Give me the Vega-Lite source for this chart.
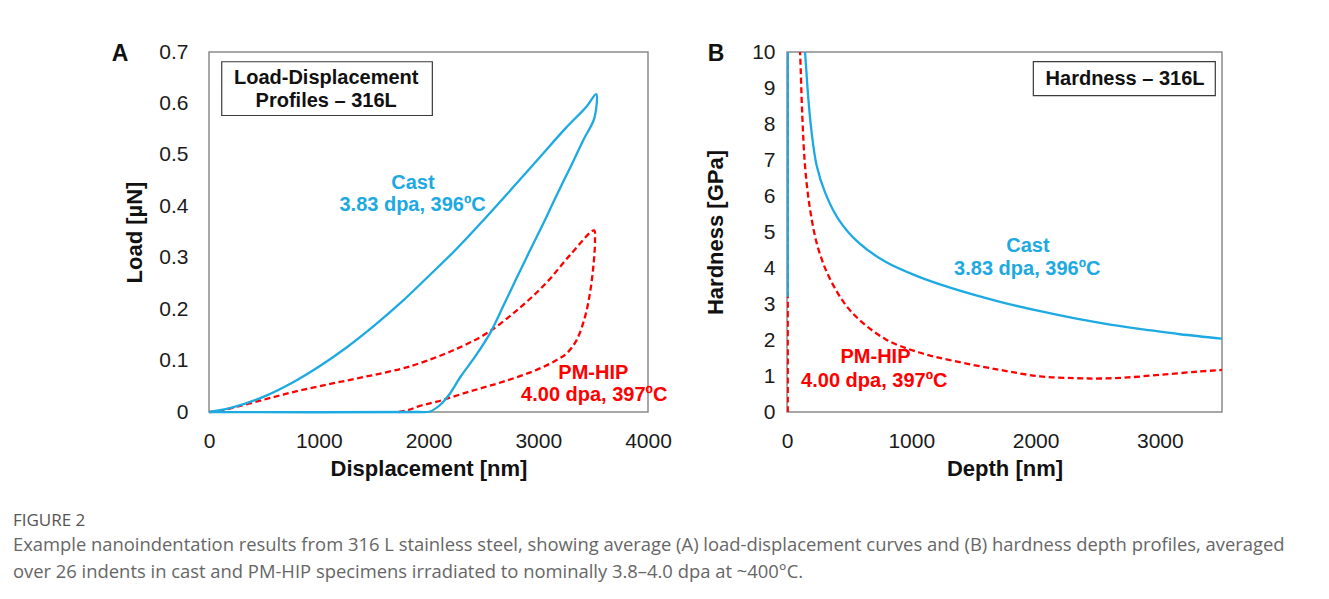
{
  "$schema": "https://vega.github.io/schema/vega-lite/v6.json",
  "padding": {"left": 12, "top": 40, "right": 5, "bottom": 5},
  "autosize": {"type": "pad"},
  "background": "white",
  "config": {
    "font": "Liberation Sans",
    "view": {"stroke": "#8a8a8a", "strokeWidth": 1.5},
    "axis": {
      "ticks": false, "tickSize": 0, "domain": false, "grid": false,
      "labelFont": "Liberation Sans", "labelFontSize": 21, "labelColor": "#1a1a1a",
      "titleFont": "Liberation Sans", "titleFontSize": 22, "titleFontWeight": "bold", "titleColor": "#111111",
      "labelFlush": false, "labelOverlap": false
    }
  },
  "title": {
    "text": "FIGURE 2",
    "subtitle": ["Example nanoindentation results from 316 L stainless steel, showing average (A) load-displacement curves and (B) hardness depth profiles, averaged", "over 26 indents in cast and PM-HIP specimens irradiated to nominally 3.8–4.0 dpa at ~400°C."],
    "orient": "bottom", "anchor": "start", "frame": "bounds",
    "font": "Open Sans", "fontSize": 17, "fontWeight": "normal", "color": "#555555",
    "subtitleFont": "Open Sans", "subtitleFontSize": 18.4, "subtitleColor": "#666666", "subtitleLineHeight": 27,
    "subtitlePadding": 6, "offset": 33, "dx": -98
  },
  "datasets": {
    "loadA": [
      {"series": "PM-HIP", "i": 0, "x": 0, "y": 0},
      {"series": "PM-HIP", "i": 1, "x": 100, "y": 0.002},
      {"series": "PM-HIP", "i": 2, "x": 250, "y": 0.01},
      {"series": "PM-HIP", "i": 3, "x": 500, "y": 0.024},
      {"series": "PM-HIP", "i": 4, "x": 750, "y": 0.038},
      {"series": "PM-HIP", "i": 5, "x": 1000, "y": 0.05},
      {"series": "PM-HIP", "i": 6, "x": 1250, "y": 0.061},
      {"series": "PM-HIP", "i": 7, "x": 1500, "y": 0.072},
      {"series": "PM-HIP", "i": 8, "x": 1750, "y": 0.084},
      {"series": "PM-HIP", "i": 9, "x": 1922, "y": 0.095},
      {"series": "PM-HIP", "i": 10, "x": 2226, "y": 0.12},
      {"series": "PM-HIP", "i": 11, "x": 2530, "y": 0.153},
      {"series": "PM-HIP", "i": 12, "x": 2834, "y": 0.203},
      {"series": "PM-HIP", "i": 13, "x": 3077, "y": 0.252},
      {"series": "PM-HIP", "i": 14, "x": 3289, "y": 0.305},
      {"series": "PM-HIP", "i": 15, "x": 3508, "y": 0.353},
      {"series": "PM-HIP", "i": 16, "x": 3517, "y": 0.334},
      {"series": "PM-HIP", "i": 17, "x": 3502, "y": 0.283},
      {"series": "PM-HIP", "i": 18, "x": 3471, "y": 0.231},
      {"series": "PM-HIP", "i": 19, "x": 3426, "y": 0.185},
      {"series": "PM-HIP", "i": 20, "x": 3350, "y": 0.14},
      {"series": "PM-HIP", "i": 21, "x": 3259, "y": 0.114},
      {"series": "PM-HIP", "i": 22, "x": 3168, "y": 0.101},
      {"series": "PM-HIP", "i": 23, "x": 2986, "y": 0.082},
      {"series": "PM-HIP", "i": 24, "x": 2682, "y": 0.059},
      {"series": "PM-HIP", "i": 25, "x": 2378, "y": 0.04},
      {"series": "PM-HIP", "i": 26, "x": 2075, "y": 0.02},
      {"series": "PM-HIP", "i": 27, "x": 1922, "y": 0.012},
      {"series": "PM-HIP", "i": 28, "x": 1820, "y": 0.004},
      {"series": "PM-HIP", "i": 29, "x": 1730, "y": 0},
      {"series": "Cast", "i": 0, "x": 0, "y": 0},
      {"series": "Cast", "i": 1, "x": 200, "y": 0.008},
      {"series": "Cast", "i": 2, "x": 500, "y": 0.03},
      {"series": "Cast", "i": 3, "x": 750, "y": 0.056},
      {"series": "Cast", "i": 4, "x": 1000, "y": 0.088},
      {"series": "Cast", "i": 5, "x": 1250, "y": 0.125},
      {"series": "Cast", "i": 6, "x": 1500, "y": 0.167},
      {"series": "Cast", "i": 7, "x": 1750, "y": 0.213},
      {"series": "Cast", "i": 8, "x": 2000, "y": 0.264},
      {"series": "Cast", "i": 9, "x": 2250, "y": 0.316},
      {"series": "Cast", "i": 10, "x": 2500, "y": 0.373},
      {"series": "Cast", "i": 11, "x": 2750, "y": 0.432},
      {"series": "Cast", "i": 12, "x": 3000, "y": 0.492},
      {"series": "Cast", "i": 13, "x": 3250, "y": 0.552},
      {"series": "Cast", "i": 14, "x": 3441, "y": 0.594},
      {"series": "Cast", "i": 15, "x": 3527, "y": 0.618},
      {"series": "Cast", "i": 16, "x": 3512, "y": 0.572},
      {"series": "Cast", "i": 17, "x": 3411, "y": 0.529},
      {"series": "Cast", "i": 18, "x": 3295, "y": 0.477},
      {"series": "Cast", "i": 19, "x": 3162, "y": 0.419},
      {"series": "Cast", "i": 20, "x": 3047, "y": 0.367},
      {"series": "Cast", "i": 21, "x": 2913, "y": 0.309},
      {"series": "Cast", "i": 22, "x": 2795, "y": 0.257},
      {"series": "Cast", "i": 23, "x": 2679, "y": 0.205},
      {"series": "Cast", "i": 24, "x": 2560, "y": 0.153},
      {"series": "Cast", "i": 25, "x": 2424, "y": 0.1075},
      {"series": "Cast", "i": 26, "x": 2293, "y": 0.069},
      {"series": "Cast", "i": 27, "x": 2196, "y": 0.036},
      {"series": "Cast", "i": 28, "x": 2105, "y": 0.0136},
      {"series": "Cast", "i": 29, "x": 2014, "y": 0.001},
      {"series": "Cast", "i": 30, "x": 1900, "y": 0},
      {"series": "Cast", "i": 31, "x": 0, "y": 0}
    ],
    "hardB": [
      {"series": "PM-HIP", "i": 0, "x": 6, "y": 0},
      {"series": "PM-HIP", "i": 1, "x": 6, "y": 1.5},
      {"series": "PM-HIP", "i": 2, "x": 6, "y": 10.5},
      {"series": "PM-HIP", "i": 3, "x": 6, "y": 14},
      {"series": "PM-HIP", "i": 4, "x": 95, "y": 10.6},
      {"series": "PM-HIP", "i": 5, "x": 105, "y": 10},
      {"series": "PM-HIP", "i": 6, "x": 123, "y": 8.23},
      {"series": "PM-HIP", "i": 7, "x": 145, "y": 6.84},
      {"series": "PM-HIP", "i": 8, "x": 185, "y": 5.64},
      {"series": "PM-HIP", "i": 9, "x": 252, "y": 4.53},
      {"series": "PM-HIP", "i": 10, "x": 360, "y": 3.6},
      {"series": "PM-HIP", "i": 11, "x": 521, "y": 2.77},
      {"series": "PM-HIP", "i": 12, "x": 789, "y": 2.03},
      {"series": "PM-HIP", "i": 13, "x": 1057, "y": 1.66},
      {"series": "PM-HIP", "i": 14, "x": 1325, "y": 1.43},
      {"series": "PM-HIP", "i": 15, "x": 1714, "y": 1.17},
      {"series": "PM-HIP", "i": 16, "x": 2037, "y": 0.99},
      {"series": "PM-HIP", "i": 17, "x": 2318, "y": 0.94},
      {"series": "PM-HIP", "i": 18, "x": 2515, "y": 0.93},
      {"series": "PM-HIP", "i": 19, "x": 2740, "y": 0.96},
      {"series": "PM-HIP", "i": 20, "x": 3021, "y": 1.04},
      {"series": "PM-HIP", "i": 21, "x": 3303, "y": 1.12},
      {"series": "PM-HIP", "i": 22, "x": 3500, "y": 1.17},
      {"series": "Cast", "i": 0, "x": 6, "y": 3.2},
      {"series": "Cast", "i": 1, "x": 6, "y": 6},
      {"series": "Cast", "i": 2, "x": 6, "y": 10.5},
      {"series": "Cast", "i": 3, "x": 6, "y": 14},
      {"series": "Cast", "i": 4, "x": 130, "y": 10.6},
      {"series": "Cast", "i": 5, "x": 145, "y": 10},
      {"series": "Cast", "i": 6, "x": 172, "y": 8.69},
      {"series": "Cast", "i": 7, "x": 198, "y": 7.77},
      {"series": "Cast", "i": 8, "x": 239, "y": 6.84},
      {"series": "Cast", "i": 9, "x": 306, "y": 6.1},
      {"series": "Cast", "i": 10, "x": 413, "y": 5.36},
      {"series": "Cast", "i": 11, "x": 574, "y": 4.71},
      {"series": "Cast", "i": 12, "x": 789, "y": 4.18},
      {"series": "Cast", "i": 13, "x": 1057, "y": 3.76},
      {"series": "Cast", "i": 14, "x": 1325, "y": 3.44},
      {"series": "Cast", "i": 15, "x": 1714, "y": 3.06},
      {"series": "Cast", "i": 16, "x": 2037, "y": 2.8},
      {"series": "Cast", "i": 17, "x": 2318, "y": 2.6},
      {"series": "Cast", "i": 18, "x": 2600, "y": 2.43},
      {"series": "Cast", "i": 19, "x": 2881, "y": 2.29},
      {"series": "Cast", "i": 20, "x": 3162, "y": 2.16},
      {"series": "Cast", "i": 21, "x": 3500, "y": 2.04}
    ],
    "notesA": [
      {"series": "Cast", "label": "Cast", "x": 1858, "y": 0.445},
      {"series": "Cast", "label": "3.83 dpa, 396ºC", "x": 1855, "y": 0.402},
      {"series": "PM-HIP", "label": "PM-HIP", "x": 3502, "y": 0.076},
      {"series": "PM-HIP", "label": "4.00 dpa, 397ºC", "x": 3510, "y": 0.034}
    ],
    "notesB": [
      {"series": "Cast", "label": "Cast", "x": 1938, "y": 4.6},
      {"series": "Cast", "label": "3.83 dpa, 396ºC", "x": 1933, "y": 3.97},
      {"series": "PM-HIP", "label": "PM-HIP", "x": 712, "y": 1.52},
      {"series": "PM-HIP", "label": "4.00 dpa, 397ºC", "x": 702, "y": 0.87}
    ],
    "boxA": [{"x": 116, "x2": 2035, "y": 0.681, "y2": 0.5765}],
    "boxB": [{"x": 1982, "x2": 3446, "y": 9.73, "y2": 8.79}],
    "boxTextA": [
      {"label": "Load-Displacement", "x": 1068, "y": 0.65},
      {"label": "Profiles – 316L", "x": 1068, "y": 0.604}
    ],
    "boxTextB": [{"label": "Hardness – 316L", "x": 2720, "y": 9.25}],
    "letterA": [{"label": "A", "x": -811, "y": 0.696}],
    "letterB": [{"label": "B", "x": -571, "y": 9.94}]
  },
  "spacing": 30,
  "hconcat": [
    {
      "width": 439,
      "height": 360,
      "encoding": {
        "x": {"field": "x", "type": "quantitative", "scale": {"domain": [0, 4000], "nice": false, "zero": false},
              "axis": {"title": "Displacement [nm]", "values": [0, 1000, 2000, 3000, 4000], "format": "d", "labelPadding": 18, "titlePadding": 7}},
        "y": {"field": "y", "type": "quantitative", "scale": {"domain": [0, 0.7], "nice": false, "zero": false},
              "axis": {"title": "Load [µN]", "values": [0, 0.1, 0.2, 0.3, 0.4, 0.5, 0.6, 0.7], "format": "~g", "labelPadding": 21, "titlePadding": 12}}
      },
      "layer": [
        {
          "data": {"name": "boxA"},
          "mark": {"type": "rect", "fill": "white", "stroke": "#3a3a3a", "strokeWidth": 1.2},
          "encoding": {"x2": {"field": "x2"}, "y2": {"field": "y2"}}
        },
        {
          "data": {"name": "boxTextA"},
          "mark": {"type": "text", "fontSize": 20, "fontWeight": "bold", "color": "#111111", "baseline": "middle", "align": "center"},
          "encoding": {"text": {"field": "label"}}
        },
        {
          "data": {"name": "loadA"},
          "transform": [{"filter": "datum.series == 'PM-HIP'"}],
          "mark": {"type": "line", "strokeWidth": 2.3, "strokeDash": [6, 3.5], "color": "#FF0000", "interpolate": "catmull-rom"},
          "encoding": {"order": {"field": "i", "type": "quantitative"}}
        },
        {
          "data": {"name": "loadA"},
          "transform": [{"filter": "datum.series == 'Cast'"}],
          "mark": {"type": "line", "strokeWidth": 2.3, "color": "#1DA9E1", "interpolate": "catmull-rom"},
          "encoding": {"order": {"field": "i", "type": "quantitative"}}
        },
        {
          "data": {"name": "notesA"},
          "mark": {"type": "text", "fontSize": 20, "fontWeight": "bold", "baseline": "middle", "align": "center"},
          "encoding": {
            "text": {"field": "label"},
            "color": {"field": "series", "type": "nominal", "scale": {"domain": ["Cast", "PM-HIP"], "range": ["#1DA9E1", "#FF0000"]}, "legend": null}
          }
        },
        {
          "data": {"name": "letterA"},
          "mark": {"type": "text", "fontSize": 23, "fontWeight": "bold", "color": "#111111", "baseline": "middle", "align": "center"},
          "encoding": {"text": {"field": "label"}}
        }
      ]
    },
    {
      "width": 435,
      "height": 360,
      "encoding": {
        "x": {"field": "x", "type": "quantitative", "scale": {"domain": [0, 3500], "nice": false, "zero": false},
              "axis": {"title": "Depth [nm]", "values": [0, 1000, 2000, 3000], "format": "d", "labelPadding": 18, "titlePadding": 7}},
        "y": {"field": "y", "type": "quantitative", "scale": {"domain": [0, 10], "nice": false, "zero": false},
              "axis": {"title": "Hardness [GPa]", "values": [0, 1, 2, 3, 4, 5, 6, 7, 8, 9, 10], "format": "d", "labelPadding": 12, "titlePadding": 24}}
      },
      "layer": [
        {
          "data": {"name": "boxB"},
          "mark": {"type": "rect", "fill": "white", "stroke": "#3a3a3a", "strokeWidth": 1.2},
          "encoding": {"x2": {"field": "x2"}, "y2": {"field": "y2"}}
        },
        {
          "data": {"name": "boxTextB"},
          "mark": {"type": "text", "fontSize": 20, "fontWeight": "bold", "color": "#111111", "baseline": "middle", "align": "center"},
          "encoding": {"text": {"field": "label"}}
        },
        {
          "data": {"name": "hardB"},
          "transform": [{"filter": "datum.series == 'PM-HIP'"}],
          "mark": {"type": "line", "strokeWidth": 2.3, "strokeDash": [6, 3.5], "color": "#FF0000", "clip": true, "interpolate": "catmull-rom"},
          "encoding": {"order": {"field": "i", "type": "quantitative"}}
        },
        {
          "data": {"name": "hardB"},
          "transform": [{"filter": "datum.series == 'Cast'"}],
          "mark": {"type": "line", "strokeWidth": 2.3, "color": "#1DA9E1", "clip": true, "interpolate": "catmull-rom"},
          "encoding": {"order": {"field": "i", "type": "quantitative"}}
        },
        {
          "data": {"name": "notesB"},
          "mark": {"type": "text", "fontSize": 20, "fontWeight": "bold", "baseline": "middle", "align": "center"},
          "encoding": {
            "text": {"field": "label"},
            "color": {"field": "series", "type": "nominal", "scale": {"domain": ["Cast", "PM-HIP"], "range": ["#1DA9E1", "#FF0000"]}, "legend": null}
          }
        },
        {
          "data": {"name": "letterB"},
          "mark": {"type": "text", "fontSize": 23, "fontWeight": "bold", "color": "#111111", "baseline": "middle", "align": "center"},
          "encoding": {"text": {"field": "label"}}
        }
      ]
    }
  ]
}
